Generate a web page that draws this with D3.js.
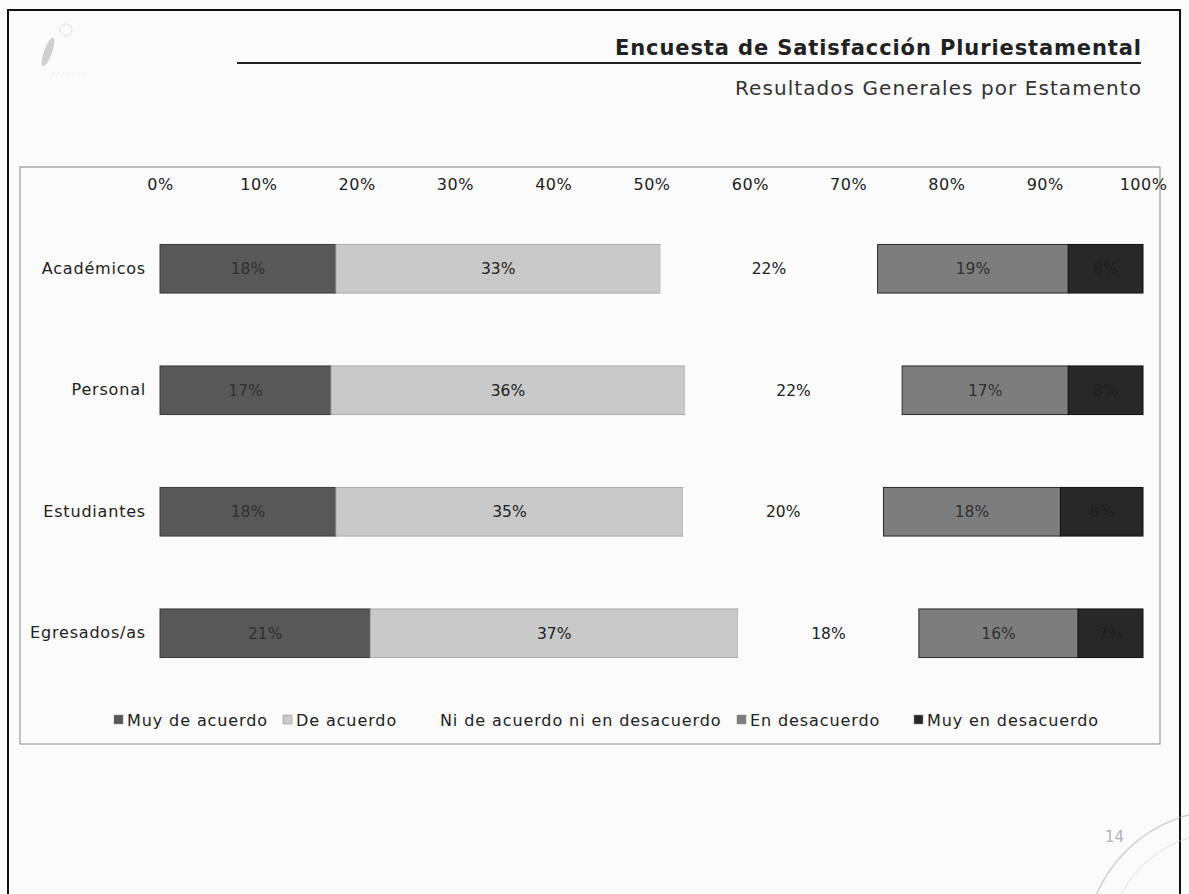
<html>
  <head>
    <meta charset="utf-8">
    <script src="https://cdnjs.cloudflare.com/ajax/libs/d3/7.8.5/d3.min.js"></script>
    <style>
      body { margin: 0; background: #fbfbfb; }
      svg { display: block; font-family: "DejaVu Sans", sans-serif; }
    </style>
  </head>
  <body>
    <svg></svg>
    <script>
      // data (percent of respondents)
      const categories = ["Académicos", "Personal", "Estudiantes", "Egresados/as"];
      const seriesNames = ["Muy de acuerdo", "De acuerdo", "Ni de acuerdo ni en desacuerdo", "En desacuerdo", "Muy en desacuerdo"];
      const muyDeAcuerdo = [17.9, 17.4, 17.9, 21.4];
      const deAcuerdo = [33.0, 36.0, 35.3, 37.4];
      const niNi = [22.1, 22.1, 20.4, 18.4];
      const enDesacuerdo = [19.4, 16.9, 18.0, 16.2];
      const muyEnDesacuerdo = [7.6, 7.6, 8.4, 6.6];
      const tickValues = [0, 10, 20, 30, 40, 50, 60, 70, 80, 90, 100];

      const fills = ["#585858", "#c9c9c9", "#fbfbfb", "#7d7d7d", "#282828"];
      const strokes = ["#3a3a3a", "#aaa", "none", "#2a2a2a", "#111"];
      const labelColors = ["#303030", "#222", "#222", "#303030", "#1e1e1e"];

      const width = 1189, height = 894;
      const svg = d3.select("svg").attr("width", width).attr("height", height);

      const table = categories.map((c, i) => ({
        cat: c,
        s0: muyDeAcuerdo[i], s1: deAcuerdo[i], s2: niNi[i], s3: enDesacuerdo[i], s4: muyEnDesacuerdo[i]
      }));
      const keys = ["s0", "s1", "s2", "s3", "s4"];
      const stacked = d3.stack().keys(keys)(table);

      // page frame
      svg.append("path")
        .attr("d", "M8,900 L8,10 L1180,10 L1180,900")
        .attr("fill", "none").attr("stroke", "#111").attr("stroke-width", 2);

      // header
      svg.append("text")
        .attr("x", 1141).attr("y", 55)
        .attr("text-anchor", "end")
        .attr("font-size", 21).attr("font-weight", "bold").attr("fill", "#222")
        .attr("textLength", 526)
        .text("Encuesta de Satisfacción Pluriestamental");
      svg.append("line")
        .attr("x1", 237).attr("x2", 1141).attr("y1", 63).attr("y2", 63)
        .attr("stroke", "#222").attr("stroke-width", 2);
      svg.append("text")
        .attr("x", 1141).attr("y", 95)
        .attr("text-anchor", "end")
        .attr("font-size", 20).attr("fill", "#333")
        .attr("textLength", 406)
        .text("Resultados Generales por Estamento");

      // faint logo
      const logo = svg.append("g").attr("opacity", 0.45);
      logo.append("ellipse").attr("cx", 48).attr("cy", 52).attr("rx", 4).attr("ry", 15)
        .attr("transform", "rotate(20,48,52)").attr("fill", "#999");
      logo.append("circle").attr("cx", 66).attr("cy", 30).attr("r", 6).attr("fill", "none").attr("stroke", "#bbb");
      logo.append("text").attr("x", 52).attr("y", 76).attr("font-size", 8).attr("fill", "#bbb").text("· · · ·  · · ·");

      // chart box
      svg.append("rect")
        .attr("x", 20).attr("y", 167).attr("width", 1140).attr("height", 577)
        .attr("fill", "none").attr("stroke", "#888").attr("stroke-width", 1);

      const x = d3.scaleLinear().domain([0, 100]).range([160, 1143]);
      const y = d3.scaleBand().domain(categories).range([208, 694]).paddingInner(0.6).paddingOuter(0.3);

      const axis = d3.axisTop(x).tickValues(tickValues).tickFormat(d => d + "%").tickSize(0).tickPadding(0);
      const ax = svg.append("g").attr("transform", "translate(0,190)").call(axis);
      ax.select(".domain").remove();
      ax.selectAll("text").attr("font-size", 16).attr("letter-spacing", 0.5)
        .attr("fill", "#222").attr("font-family", "DejaVu Sans");

      const yAxis = d3.axisLeft(y).tickSize(0).tickPadding(14);
      const ay = svg.append("g").attr("transform", "translate(160,0)").call(yAxis);
      ay.select(".domain").remove();
      ay.selectAll("text").attr("font-size", 16).attr("letter-spacing", 0.8)
        .attr("fill", "#222").attr("font-family", "DejaVu Sans");

      const layers = svg.append("g").selectAll("g").data(stacked).join("g");
      layers.selectAll("rect").data((d, k) => d.map(v => ({ v, k })))
        .join("rect")
        .attr("x", d => x(d.v[0]))
        .attr("y", d => y(d.v.data.cat))
        .attr("width", d => x(d.v[1]) - x(d.v[0]))
        .attr("height", y.bandwidth())
        .attr("fill", d => fills[d.k])
        .attr("stroke", d => strokes[d.k])
        .attr("stroke-width", 1);

      layers.selectAll("text").data((d, k) => d.map(v => ({ v, k })))
        .join("text")
        .attr("x", d => (x(d.v[0]) + x(d.v[1])) / 2)
        .attr("y", d => y(d.v.data.cat) + y.bandwidth() / 2)
        .attr("dy", "0.35em")
        .attr("text-anchor", "middle")
        .attr("font-size", 15.5)
        .attr("fill", d => labelColors[d.k])
        .text(d => Math.round(d.v[1] - d.v[0]) + "%");

      // legend
      const legendX = [114, 283, 440, 737, 914];
      const lg = svg.append("g").selectAll("g").data(seriesNames).join("g")
        .attr("transform", (d, i) => `translate(${legendX[i]},720)`);
      lg.append("rect").attr("x", 0).attr("y", -5).attr("width", 9).attr("height", 9)
        .attr("fill", (d, i) => fills[i]).attr("stroke", (d, i) => i === 2 ? "none" : "#888").attr("stroke-width", 0.5);
      lg.append("text").attr("x", (d, i) => i === 2 ? 0 : 13).attr("dy", "0.35em")
        .attr("font-size", 16).attr("letter-spacing", 0.9).attr("fill", "#222").text(d => d);

      // stamp with page number
      const st = svg.append("g").attr("opacity", 0.55);
      st.append("circle").attr("cx", 1225).attr("cy", 950).attr("r", 140)
        .attr("fill", "none").attr("stroke", "#aaa").attr("stroke-width", 1.5);
      st.append("circle").attr("cx", 1225).attr("cy", 950).attr("r", 118)
        .attr("fill", "none").attr("stroke", "#ccc").attr("stroke-width", 1);
      st.append("text").attr("x", 1105).attr("y", 842).attr("font-size", 15).attr("fill", "#777").text("14");
    </script>
  </body>
</html>
